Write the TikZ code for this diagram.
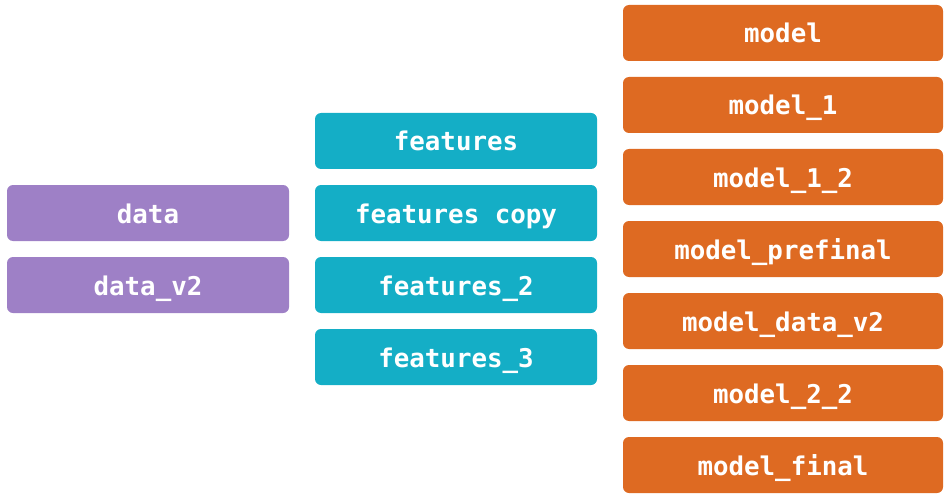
\documentclass[tikz,border=0pt]{standalone}
\usepackage{fontspec}
\setmonofont{DejaVu Sans Mono}
\usepackage{tikz}
\definecolor{datacol}{RGB}{158,128,198}
\definecolor{featcol}{RGB}{20,174,198}
\definecolor{modelcol}{RGB}{222,106,34}

\begin{document}
\begin{tikzpicture}[x=1pt,y=-1pt,
    box/.style={rounded corners=6pt, minimum height=56pt, inner sep=0pt,
                text height=24pt, text depth=4pt,
                text=white, font=\fontsize{25.8}{30}\selectfont\ttfamily\bfseries},
    databox/.style={box, fill=datacol, minimum width=282pt},
    featbox/.style={box, fill=featcol, minimum width=282pt},
    modelbox/.style={box, fill=modelcol, minimum width=320pt}]
    \useasboundingbox (0,0) rectangle (949,497);

    \node[databox](data) at (148,213) {data};
    \node[databox](datav2) at (148,285) {data\_v2};

    \node[featbox](feat) at (456,141) {features};
    \node[featbox](featcopy) at (456,213) {features copy};
    \node[featbox](feat2) at (456,285) {features\_2};
    \node[featbox](feat3) at (456,357) {features\_3};

    \node[modelbox](model) at (783, 33) {model};
    \node[modelbox](model1) at (783,105) {model\_1};
    \node[modelbox](model12) at (783,177) {model\_1\_2};
    \node[modelbox](modelpre) at (783,249) {model\_prefinal};
    \node[modelbox](modeldv2) at (783,321) {model\_data\_v2};
    \node[modelbox](model22) at (783,393) {model\_2\_2};
    \node[modelbox](modelfin) at (783,465) {model\_final};
  \end{tikzpicture}
\end{document}
